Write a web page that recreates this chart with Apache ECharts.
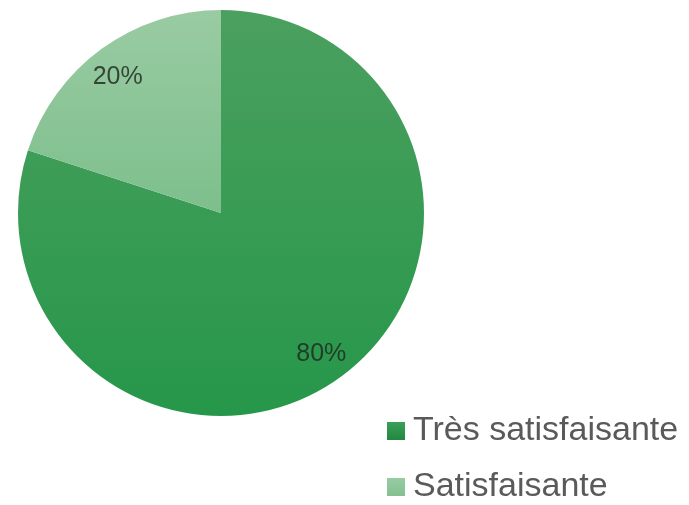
<!DOCTYPE html>
<html><head><meta charset="utf-8">
<script src="https://cdn.jsdelivr.net/npm/echarts@6/dist/echarts.min.js"></script>
<style>html,body{margin:0;padding:0;background:#fff}#c{width:689px;height:505px}</style>
</head><body><div id="c"></div>
<script>
const categories = ['Très satisfaisante', 'Satisfaisante'];
const values = [80, 20];
const labels = ['80%', '20%'];

const grad = (top, bottom) => new echarts.graphic.LinearGradient(0, 0, 0, 1, [{offset: 0, color: top}, {offset: 1, color: bottom}]);
const colors = [grad('#4ba05f', '#26974a'), grad('#9acba3', '#7dbf8c')];
const legendColors = [grad('#3aa058', '#22883f'), grad('#98cba2', '#82c190')];
const labelOffsets = [[-1, 0], [0, 5]];

const chart = echarts.init(document.getElementById('c'));
chart.setOption({
  animation: false,
  legend: {
    orient: 'vertical', left: 387, top: 414, padding: 0,
    itemWidth: 18, itemHeight: 18, itemGap: 22,
    icon: 'rect',
    textStyle: {fontFamily: 'Liberation Sans', fontSize: 34, color: '#5a5a5a', padding: [0,0,0,3]},
    data: categories.map((c, i) => ({name: c, itemStyle: {color: legendColors[i]}}))
  },
  series: [{
    type: 'pie', center: [221, 213], radius: [0, 203],
    startAngle: 90, clockwise: true, silent: true,
    label: {show: false}, labelLine: {show: false},
    data: categories.map((c, i) => ({name: c, value: values[i], itemStyle: {color: colors[i]}}))
  }, {
    type: 'pie', center: [220, 213], radius: [140, 202],
    startAngle: 90, clockwise: true, silent: true, legendHoverLink: false,
    itemStyle: {color: 'rgba(0,0,0,0)'},
    label: {show: true, position: 'inside', formatter: p => labels[p.dataIndex],
      fontFamily: 'Liberation Sans', fontSize: 25, color: 'rgba(30,40,32,0.82)'},
    labelLine: {show: false},
    data: categories.map((c, i) => ({name: 'lbl' + i, value: values[i], label: {offset: labelOffsets[i]}}))
  }]
});
</script></body></html>
